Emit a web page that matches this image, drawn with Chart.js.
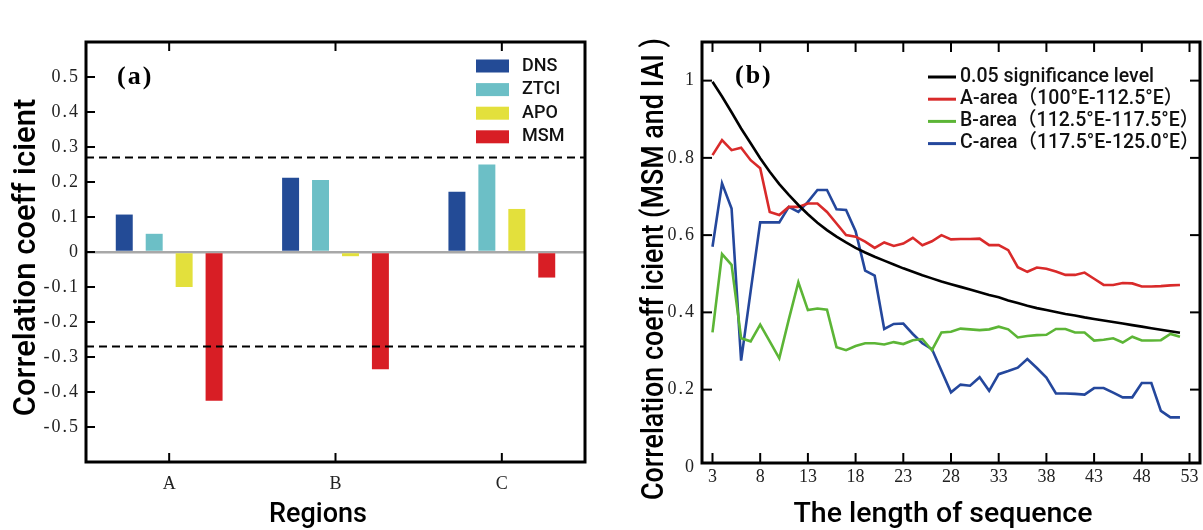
<!DOCTYPE html>
<html><head><meta charset="utf-8">
<script src="https://cdn.jsdelivr.net/npm/chart.js@4.4.0/dist/chart.umd.min.js"></script>
<style>
html,body{margin:0;padding:0;background:#fff;}
#wrap{position:relative;width:1203px;height:530px;overflow:hidden;background:#fff;}
#ca{position:absolute;left:0;top:0;}
#cb{position:absolute;left:600px;top:0;}
</style></head><body>
<div id="wrap">
<canvas id="ca" width="600" height="530"></canvas>
<canvas id="cb" width="603" height="530"></canvas>
</div>
<script>
// ---------- Panel (a) data ----------
const regions = ['A', 'B', 'C'];
const dnsValues  = [0.107, 0.212, 0.172];
const ztciValues = [0.052, 0.206, 0.250];
const apoValues  = [-0.100, -0.012, 0.123];
const msmValues  = [-0.425, -0.335, -0.073];
const sigLevelsA = [0.27, -0.27];
const yTicksA = [-0.5, -0.4, -0.3, -0.2, -0.1, 0, 0.1, 0.2, 0.3, 0.4, 0.5];
const yTickLabelsA = ['-0.5', '-0.4', '-0.3', '-0.2', '-0.1', '0', '0.1', '0.2', '0.3', '0.4', '0.5'];

// ---------- Panel (b) data ----------
const seqLength = [3,4,5,6,7,8,9,10,11,12,13,14,15,16,17,18,19,20,21,22,23,24,25,26,27,28,29,30,31,32,33,34,35,36,37,38,39,40,41,42,43,44,45,46,47,48,49,50,51,52];
const sigLevel005 = [0.997,0.959,0.918,0.876,0.838,0.799,0.764,0.732,0.704,0.678,0.654,0.632,0.613,0.596,0.581,0.567,0.555,0.544,0.534,0.524,0.514,0.505,0.496,0.488,0.480,0.473,0.466,0.459,0.452,0.445,0.439,0.431,0.424,0.417,0.411,0.406,0.401,0.396,0.392,0.387,0.383,0.379,0.375,0.371,0.367,0.363,0.359,0.355,0.351,0.347];
const areaA = [0.807,0.846,0.820,0.826,0.794,0.773,0.660,0.652,0.673,0.673,0.682,0.682,0.660,0.630,0.600,0.596,0.583,0.567,0.581,0.572,0.578,0.593,0.574,0.584,0.600,0.589,0.590,0.590,0.591,0.574,0.574,0.561,0.517,0.505,0.516,0.513,0.506,0.497,0.497,0.503,0.487,0.471,0.471,0.476,0.475,0.467,0.467,0.468,0.470,0.471];
const areaB = [0.348,0.551,0.523,0.333,0.325,0.368,0.325,0.281,0.382,0.478,0.406,0.410,0.407,0.310,0.302,0.313,0.320,0.320,0.317,0.323,0.318,0.328,0.331,0.302,0.348,0.350,0.358,0.356,0.354,0.356,0.363,0.356,0.335,0.339,0.341,0.342,0.357,0.357,0.348,0.348,0.327,0.329,0.333,0.322,0.337,0.327,0.327,0.328,0.344,0.337];
const areaC = [0.570,0.734,0.669,0.275,0.455,0.633,0.633,0.633,0.673,0.660,0.686,0.717,0.717,0.667,0.665,0.610,0.508,0.495,0.357,0.370,0.371,0.344,0.320,0.305,0.249,0.193,0.213,0.210,0.232,0.197,0.240,0.248,0.257,0.279,0.256,0.231,0.190,0.190,0.189,0.187,0.204,0.204,0.192,0.180,0.180,0.217,0.217,0.145,0.128,0.128];
const xTicksB = [3, 8, 13, 18, 23, 28, 33, 38, 43, 48, 53];
const yTicksB = [0, 0.2, 0.4, 0.6, 0.8, 1];
const yTickLabelsB = ['0', '0.2', '0.4', '0.6', '0.8', '1'];

const SANS = 'Roboto, "Noto Sans", "Noto Sans CJK SC", sans-serif';
const SERIF = '"Liberation Serif", "DejaVu Serif", serif';

function drawText(ctx, t) {
  ctx.save();
  ctx.font = t.font;
  ctx.fillStyle = t.color || '#111';
  ctx.textAlign = t.align || 'left';
  ctx.textBaseline = t.baseline || 'alphabetic';
  if (t.spacing && 'letterSpacing' in ctx) ctx.letterSpacing = t.spacing;
  ctx.translate(t.x, t.y);
  if (t.rot) ctx.rotate(t.rot);
  if (t.maxWidth) ctx.fillText(t.text, 0, 0, t.maxWidth); else ctx.fillText(t.text, 0, 0);
  ctx.restore();
}

const decor = {
  id: 'decor',
  beforeDraw(chart, args, o) {
    const s = chart.scales.y;
    if (o.ySpacing && s && !s._spaced) {
      const orig = s.drawLabels;
      s.drawLabels = function (area) {
        const c = this.ctx;
        const has = 'letterSpacing' in c;
        if (has) c.letterSpacing = o.ySpacing;
        orig.call(this, area);
        if (has) c.letterSpacing = '0px';
      };
      s._spaced = true;
    }
  },
  afterDatasetsDraw(chart, args, o) {
    const ctx = chart.ctx, ca = chart.chartArea;
    const xs = chart.scales.x, ys = chart.scales.y;
    ctx.save();
    (o.hlines || []).forEach(h => {
      const y = ys.getPixelForValue(h.value);
      ctx.beginPath();
      ctx.setLineDash(h.dash);
      ctx.lineWidth = h.width;
      ctx.strokeStyle = h.color;
      ctx.moveTo(ca.left, y); ctx.lineTo(ca.right, y);
      ctx.stroke();
    });
    ctx.setLineDash([]);
    ctx.strokeStyle = '#000';
    ctx.lineWidth = o.tickWidth;
    const L = o.tickLen, sides = o.tickSides;
    const seg = (x1, y1, x2, y2) => { ctx.beginPath(); ctx.moveTo(x1, y1); ctx.lineTo(x2, y2); ctx.stroke(); };
    xs.ticks.forEach((t, i) => {
      const x = xs.getPixelForTick(i);
      if (x < ca.left + 1 || x > ca.right - 1) return;
      if (sides.includes('top')) seg(x, ca.top, x, ca.top + L);
      if (sides.includes('bottom')) seg(x, ca.bottom, x, ca.bottom - L);
    });
    ys.ticks.forEach((t, i) => {
      const y = ys.getPixelForTick(i);
      if (y < ca.top + 1 || y > ca.bottom - 1) return;
      if (sides.includes('left')) seg(ca.left, y, ca.left + L, y);
      if (sides.includes('right')) seg(ca.right, y, ca.right - L, y);
    });
    ctx.lineWidth = o.borderWidth;
    ctx.strokeRect(ca.left, ca.top, ca.right - ca.left, ca.bottom - ca.top);
    ctx.restore();
  },
  afterDraw(chart, args, o) {
    const ctx = chart.ctx;
    const lg = o.legend;
    if (lg) {
      chart.data.datasets.forEach((ds, i) => {
        const y = lg.y0 + i * lg.dy;
        ctx.save();
        if (lg.kind === 'box') {
          ctx.fillStyle = ds.backgroundColor;
          ctx.fillRect(lg.x0, y - lg.boxH / 2, lg.boxW, lg.boxH);
        } else {
          ctx.strokeStyle = ds.borderColor;
          ctx.lineWidth = lg.lineW;
          ctx.beginPath(); ctx.moveTo(lg.x0, y); ctx.lineTo(lg.x0 + lg.boxW, y); ctx.stroke();
        }
        ctx.restore();
        drawText(ctx, {text: ds.label, x: lg.tx, y: y, font: lg.font, baseline: 'middle', color: '#111'});
      });
    }
    (o.texts || []).forEach(t => drawText(ctx, t));
  }
};

// ---------- Chart (a) ----------
new Chart(document.getElementById('ca'), {
  type: 'bar',
  data: {
    labels: regions,
    datasets: [
      {label: 'DNS',  data: dnsValues,  backgroundColor: '#234b96'},
      {label: 'ZTCI', data: ztciValues, backgroundColor: '#6cbfc6'},
      {label: 'APO',  data: apoValues,  backgroundColor: '#e3e03c'},
      {label: 'MSM',  data: msmValues,  backgroundColor: '#d81e25'}
    ]
  },
  options: {
    responsive: false, animation: false, devicePixelRatio: 1,
    datasets: {bar: {categoryPercentage: 0.72, barPercentage: 0.567, borderWidth: 0}},
    layout: {padding: {left: 0, right: 15, top: 42, bottom: 0}},
    plugins: {
      legend: {display: false}, tooltip: {enabled: false},
      decor: {
        ySpacing: '2px',
        tickLen: 9, tickWidth: 2, borderWidth: 3, tickSides: ['left', 'top', 'bottom'],
        hlines: sigLevelsA.map(v => ({value: v, dash: [8, 5], width: 2, color: '#000'})),
        legend: {kind: 'box', x0: 476, boxW: 33, boxH: 13, tx: 522, y0: 66, dy: 23.6, font: '500 18px ' + SANS},
        texts: [
          {text: '(a)', x: 117, y: 77, font: 'bold 26px ' + SERIF, baseline: 'middle', spacing: '2px', color: '#000'},
          {text: 'Correlation coeff icient', x: 35, y: 257.5, rot: -Math.PI / 2, align: 'center', font: '500 31px ' + SANS, maxWidth: 322, color: '#000'},
          {text: 'Regions', x: 318, y: 521.5, align: 'center', font: '500 27px ' + SANS, maxWidth: 105, color: '#000'}
        ]
      }
    },
    scales: {
      x: {
        type: 'category',
        grid: {display: false, drawTicks: false},
        border: {display: false},
        ticks: {font: {family: SERIF, size: 18}, color: '#222', padding: 11},
        afterFit: s => { s.height = 68; }
      },
      y: {
        min: -0.6, max: 0.6,
        afterBuildTicks: s => { s.ticks = yTicksA.map(v => ({value: v})); },
        grid: {drawTicks: false, lineWidth: 2.5, color: c => (c.tick && c.tick.value === 0) ? '#a8a8a8' : 'rgba(0,0,0,0)'},
        border: {display: false},
        ticks: {font: {family: SERIF, size: 18}, color: '#222', padding: 6,
                callback: (v, i) => yTickLabelsA[i]},
        afterFit: s => { s.width = 86; }
      }
    }
  },
  plugins: [decor]
});

// ---------- Chart (b) ----------
const pts = arr => arr.map((v, i) => ({x: seqLength[i], y: v}));
new Chart(document.getElementById('cb'), {
  type: 'line',
  data: {
    datasets: [
      {label: '0.05 significance level', data: pts(sigLevel005), borderColor: '#000000'},
      {label: 'A-area（100°E-112.5°E）', data: pts(areaA), borderColor: '#d92a2a'},
      {label: 'B-area（112.5°E-117.5°E）', data: pts(areaB), borderColor: '#5cb536'},
      {label: 'C-area（117.5°E-125.0°E）', data: pts(areaC), borderColor: '#24479c'}
    ]
  },
  options: {
    responsive: false, animation: false, devicePixelRatio: 1,
    datasets: {line: {borderWidth: 2.6, pointRadius: 0, tension: 0, fill: false}},
    layout: {padding: {left: 0, right: 3, top: 42, bottom: 0}},
    plugins: {
      legend: {display: false}, tooltip: {enabled: false},
      decor: {
        ySpacing: '2px',
        tickLen: 10, tickWidth: 2, borderWidth: 3, tickSides: ['left', 'right', 'top', 'bottom'],
        legend: {kind: 'line', x0: 328, boxW: 28, lineW: 3, tx: 360, y0: 77, dy: 22.2, font: '500 19.5px ' + SANS},
        texts: [
          {text: '(b)', x: 135, y: 76, font: 'bold 26px ' + SERIF, baseline: 'middle', spacing: '2px', color: '#000'},
          {text: 'Correlation coeff icient (MSM and IAI )', x: 63, y: 269, rot: -Math.PI / 2, align: 'center', font: '500 31px ' + SANS, maxWidth: 462, color: '#000'},
          {text: 'The length of sequence', x: 343, y: 521.5, align: 'center', font: '500 28.5px ' + SANS, maxWidth: 300, color: '#000'}
        ]
      }
    },
    scales: {
      x: {
        type: 'linear', min: 1.9, max: 54.1,
        afterBuildTicks: s => { s.ticks = xTicksB.map(v => ({value: v})); },
        grid: {display: false, drawTicks: false},
        border: {display: false},
        ticks: {font: {family: SERIF, size: 18}, color: '#222', padding: 3},
        afterFit: s => { s.height = 67; }
      },
      y: {
        min: 0.01, max: 1.1,
        afterBuildTicks: s => { s.ticks = yTicksB.map(v => ({value: v})); },
        grid: {display: false, drawTicks: false},
        border: {display: false},
        ticks: {font: {family: SERIF, size: 18}, color: '#222', padding: 6,
                callback: (v, i) => yTickLabelsB[i]},
        afterFit: s => { s.width = 102; }
      }
    }
  },
  plugins: [decor]
});
</script>
</body></html>
